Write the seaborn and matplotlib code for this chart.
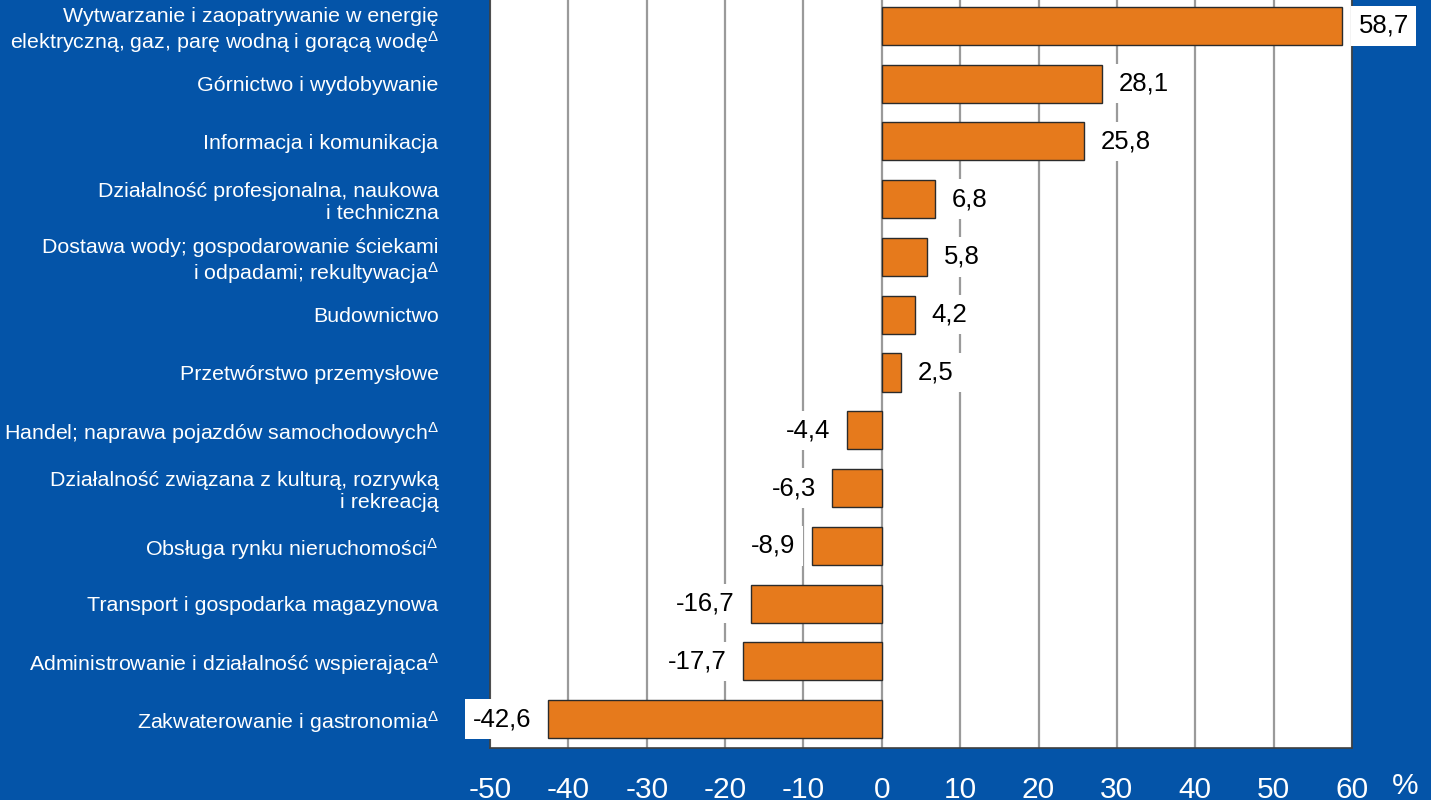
import matplotlib
matplotlib.use("Agg")
import matplotlib.pyplot as plt
import seaborn as sns
import pandas as pd

# Sections of the economy and the change in value (%)
categories = [
    "Wytwarzanie i zaopatrywanie w energię\nelektryczną, gaz, parę wodną i gorącą wodę",
    "Górnictwo i wydobywanie",
    "Informacja i komunikacja",
    "Działalność profesjonalna, naukowa\ni techniczna",
    "Dostawa wody; gospodarowanie ściekami\ni odpadami; rekultywacja",
    "Budownictwo",
    "Przetwórstwo przemysłowe",
    "Handel; naprawa pojazdów samochodowych",
    "Działalność związana z kulturą, rozrywką\ni rekreacją",
    "Obsługa rynku nieruchomości",
    "Transport i gospodarka magazynowa",
    "Administrowanie i działalność wspierająca",
    "Zakwaterowanie i gastronomia",
]
values = [58.7, 28.1, 25.8, 6.8, 5.8, 4.2, 2.5, -4.4, -6.3, -8.9, -16.7, -17.7, -42.6]
# sections marked with the delta footnote sign
footnoted = [True, False, False, False, True, False, False, True, False, True, False, True, True]
x_ticks = [-50, -40, -30, -20, -10, 0, 10, 20, 30, 40, 50, 60]

BLUE = "#0454A8"
ORANGE = "#E67A1C"

sns.set_style("white")
plt.rcParams["font.family"] = ["Liberation Sans", "DejaVu Sans"]
plt.rcParams["mathtext.fontset"] = "custom"
plt.rcParams["mathtext.rm"] = "Liberation Sans"
plt.rcParams["mathtext.it"] = "Liberation Sans:italic"
plt.rcParams["mathtext.bf"] = "Liberation Sans:bold"

labels = [c + (r"$^{\Delta}$" if f else "") for c, f in zip(categories, footnoted)]
df = pd.DataFrame({"sekcja": labels, "zmiana": values})

fig = plt.figure(figsize=(14.31, 8.0), dpi=100, facecolor=BLUE)
ax = fig.add_axes([490 / 1431, 52 / 800, 862 / 1431, 751 / 800])
ax.set_facecolor("white")

sns.barplot(data=df, x="zmiana", y="sekcja", orient="h", color=ORANGE,
            saturation=1, edgecolor="#2b2b2b", linewidth=1.0, width=0.66,
            ax=ax, zorder=3)

ax.set_xlim(-50, 60)
ax.set_ylim(len(values) - 0.5, -0.5)
ax.set_xticks(x_ticks)
ax.set_xticklabels([str(t) for t in x_ticks])
ax.xaxis.grid(True, color="#9a9a9a", linewidth=1.6, zorder=0)
ax.yaxis.grid(False)
ax.set_axisbelow(True)
ax.set_xlabel("")
ax.set_ylabel("")

ax.tick_params(axis="x", length=0, pad=20, labelsize=21.5, labelcolor="white")
ax.tick_params(axis="y", length=0, pad=37, labelsize=15.4, labelcolor="white")

for side in ["left", "right", "bottom", "top"]:
    ax.spines[side].set_color("#404040")
    ax.spines[side].set_linewidth(1.2)

# value labels in white boxes next to bar ends
for i, v in enumerate(values):
    txt = f"{v:.1f}".replace(".", ",")
    off = 12 if v >= 0 else -12
    ax.annotate(txt, xy=(v, i), xytext=(off, 0), textcoords="offset points",
                ha="left" if v >= 0 else "right", va="center",
                fontsize=18.5, color="black", zorder=5, annotation_clip=False,
                bbox=dict(boxstyle="square,pad=0.3", facecolor="white",
                          edgecolor="none"))

fig.text(1405 / 1431, 1 - 786 / 800, "%", color="white", fontsize=21.5,
         ha="center", va="center")

fig.savefig("out.png", dpi=100, facecolor=BLUE)
